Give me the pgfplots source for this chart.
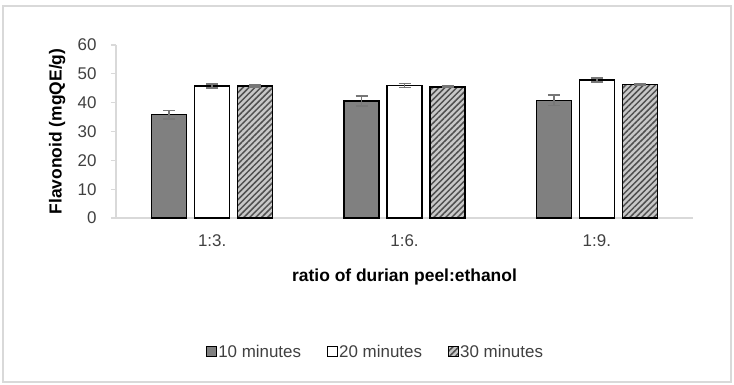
\documentclass[border=0pt]{standalone}
\usepackage{fontspec}
\setmainfont{Liberation Sans}
\usepackage{pgfplots}
\pgfplotsset{compat=1.18}
\usetikzlibrary{patterns.meta}
\definecolor{axgray}{HTML}{D9D9D9}
\definecolor{bargray}{HTML}{808080}
\definecolor{errgray}{HTML}{777777}
\definecolor{txtgray}{HTML}{404040}
\definecolor{hatchbg}{HTML}{C8C8C8}
\definecolor{hatchfg}{HTML}{505050}
\begin{document}
\begin{tikzpicture}[x=1bp,y=1bp]
\useasboundingbox (-116,-166) rectangle (618,218);
\draw[axgray, line width=1.2bp] (-113,212) rectangle (615,-164);
\begin{axis}[
  at={(0,0)}, anchor=south west,
  scale only axis, width=577bp, height=173bp,
  xmin=-0.5, xmax=2.5, ymin=0, ymax=60,
  xtick={0,1,2}, xticklabels={1:3.,1:6.,1:9.},
  ytick={0,10,...,60},
  axis lines*=left,
  axis line style={draw=axgray, line width=1.3bp, -},
  xtick style={draw=none},
  ytick style={draw=axgray, line width=1.3bp},
  tick align=outside, major tick length=5bp,
  tick label style={font=\fontsize{17}{20}\selectfont, text=txtgray},
  /pgf/number format/assume math mode=true,
  xticklabel shift=8bp,
  yticklabel shift=11bp,
  ylabel={\bfseries Flavonoid (mgQE/g)},
  xlabel={\bfseries ratio of durian peel:ethanol},
  label style={font=\fontsize{17.5}{20}\selectfont, text=black},
  ylabel style={at={(axis description cs:-0.102,0.5)}, anchor=center},
  xlabel style={at={(axis description cs:0.5,-0.343)}, anchor=center},
  ybar, bar width=35bp,
  legend columns=3,
  legend style={at={(axis description cs:0.449,-0.773)}, anchor=center, draw=none,
    font=\fontsize{17}{20}\selectfont, text=txtgray,
    /tikz/every even column/.append style={column sep=24bp},
    nodes={inner sep=1.5bp}},
  legend image code/.code={\draw[#1, line width=1.1bp] (0bp,-5bp) rectangle (10bp,5bp);},
]
\addplot[ybar, bar shift=-43bp, fill=bargray, draw=black, line width=1.4bp,
  error bars/.cd, y dir=both, y explicit,
  error bar style={errgray, line width=1.4bp},
  error mark options={rotate=90, errgray, mark size=6bp, line width=1.4bp}]
  coordinates {(0,35.8) +- (0,1.5) (1,40.6) +- (0,1.7) (2,40.8) +- (0,1.8)};
\addplot[ybar, bar shift=0bp, fill=white, draw=black, line width=1.4bp,
  error bars/.cd, y dir=both, y explicit,
  error bar style={errgray, line width=1.4bp},
  error mark options={rotate=90, errgray, mark size=6bp, line width=1.4bp}]
  coordinates {(0,45.8) +- (0,0.7) (1,45.9) +- (0,0.7) (2,47.8) +- (0,0.7)};
\addplot[ybar, bar shift=43bp, fill=hatchbg, draw=black, line width=1.4bp,
  postaction={pattern={Lines[angle=45, distance=4.2bp, line width=1.5bp]}, pattern color=hatchfg},
  error bars/.cd, y dir=both, y explicit,
  error bar style={errgray, line width=1.4bp},
  error mark options={rotate=90, errgray, mark size=6bp, line width=1.4bp}]
  coordinates {(0,45.8) +- (0,0.3) (1,45.5) +- (0,0.3) (2,46.2) +- (0,0.3)};
\legend{10 minutes, 20 minutes, 30 minutes}
\end{axis}
\end{tikzpicture}
\end{document}
